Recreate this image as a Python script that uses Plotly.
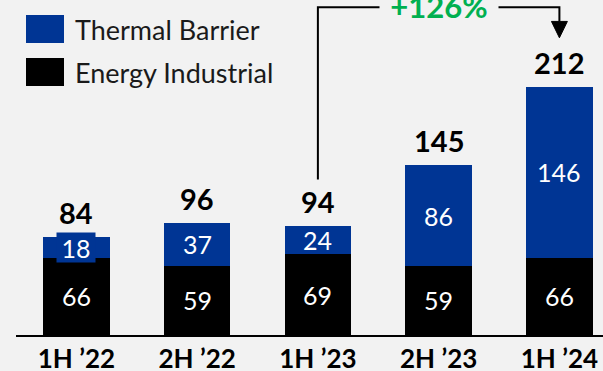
import plotly.graph_objects as go

# Revenue by half-year, split by segment
periods = ["1H \u201922", "2H \u201922", "1H \u201923", "2H \u201923", "1H \u201924"]
energy_industrial = [66, 59, 69, 59, 66]
thermal_barrier = [18, 37, 24, 86, 146]
totals = [84, 96, 94, 145, 212]
growth_label = "+126%"

BLUE = "#003594"
BLACK = "#000000"
GREEN = "#00B050"
BG = "#F2F2F2"
FONT = "Lato"

x = list(range(len(periods)))

fig = go.Figure()
fig.add_trace(go.Bar(x=x, y=energy_industrial, marker=dict(color=BLACK, line=dict(width=0)),
                     width=0.55, name="Energy Industrial", showlegend=False))
fig.add_trace(go.Bar(x=x, y=thermal_barrier, marker=dict(color=BLUE, line=dict(width=0)),
                     width=0.55, name="Thermal Barrier", showlegend=False))

annotations = []
for i in x:
    e, t, tot = energy_industrial[i], thermal_barrier[i], totals[i]
    top = e + t
    # segment values
    annotations.append(dict(x=i, y=e / 2, text=str(e), showarrow=False,
                            font=dict(family=FONT, size=25, color="white")))
    small = t < 20
    annotations.append(dict(x=i, y=e + t / 2, text=str(t), showarrow=False,
                            font=dict(family=FONT, size=25, color="white"),
                            bgcolor=BLUE if small else None,
                            width=36 if small else None, height=27 if small else None))
    # totals above each bar
    annotations.append(dict(x=i, y=top, text=f"<b>{tot}</b>", showarrow=False,
                            yanchor="bottom", yshift=5,
                            font=dict(family=FONT, size=29, color=BLACK)))

# growth bracket from 1H '23 to 1H '24
y_top = 280
y_start = 133
y_head = 268
y_tip = 254
hw = 0.066
shapes = [
    dict(type="path", xref="x", yref="y",
         path=f"M 2,{y_start} L 2,{y_top} L 4,{y_top} L 4,{y_head}",
         line=dict(color=BLACK, width=2)),
    dict(type="path", xref="x", yref="y",
         path=f"M {4 - hw},{y_head} L {4 + hw},{y_head} L 4,{y_tip} Z",
         fillcolor=BLACK, line=dict(color=BLACK, width=1)),
]
annotations.append(dict(x=3, y=y_top, text=f"<b>{growth_label}</b>", showarrow=False,
                        font=dict(family=FONT, size=31, color=GREEN),
                        bgcolor=BG, width=116, yshift=1))

# legend drawn as swatches with labels
legend_items = [("Thermal Barrier", BLUE), ("Energy Industrial", BLACK)]
for k, (label, col) in enumerate(legend_items):
    top = 15 + 43 * k
    shapes.append(dict(type="rect", xref="paper", yref="paper",
                       x0=(26 - 16) / 587, x1=(64 - 16) / 587,
                       y0=(335 - top - 28) / 335, y1=(335 - top) / 335,
                       fillcolor=col, line=dict(width=0)))
    annotations.append(dict(xref="paper", yref="paper", x=(73 - 16) / 587,
                            y=(335 - top - 14) / 335, xanchor="left", yanchor="middle",
                            text=label, showarrow=False,
                            font=dict(family=FONT, size=27, color="#1a1a1a")))

fig.update_layout(
    barmode="stack",
    width=603, height=371,
    margin=dict(l=16, r=0, t=0, b=36),
    paper_bgcolor=BG, plot_bgcolor=BG,
    shapes=shapes, annotations=annotations,
    xaxis=dict(range=[-0.5, 4.361], tickvals=x, ticktext=periods,
               tickfont=dict(family=FONT, size=26, color=BLACK, weight="bold"),
               showline=True, linecolor=BLACK, linewidth=2, showgrid=False,
               ticks="", ticklabelstandoff=0, zeroline=False, fixedrange=True,
               automargin=False),
    yaxis=dict(range=[0, 286.3], visible=False, showgrid=False, zeroline=False,
               automargin=False),
)

fig.write_html("out.html")
